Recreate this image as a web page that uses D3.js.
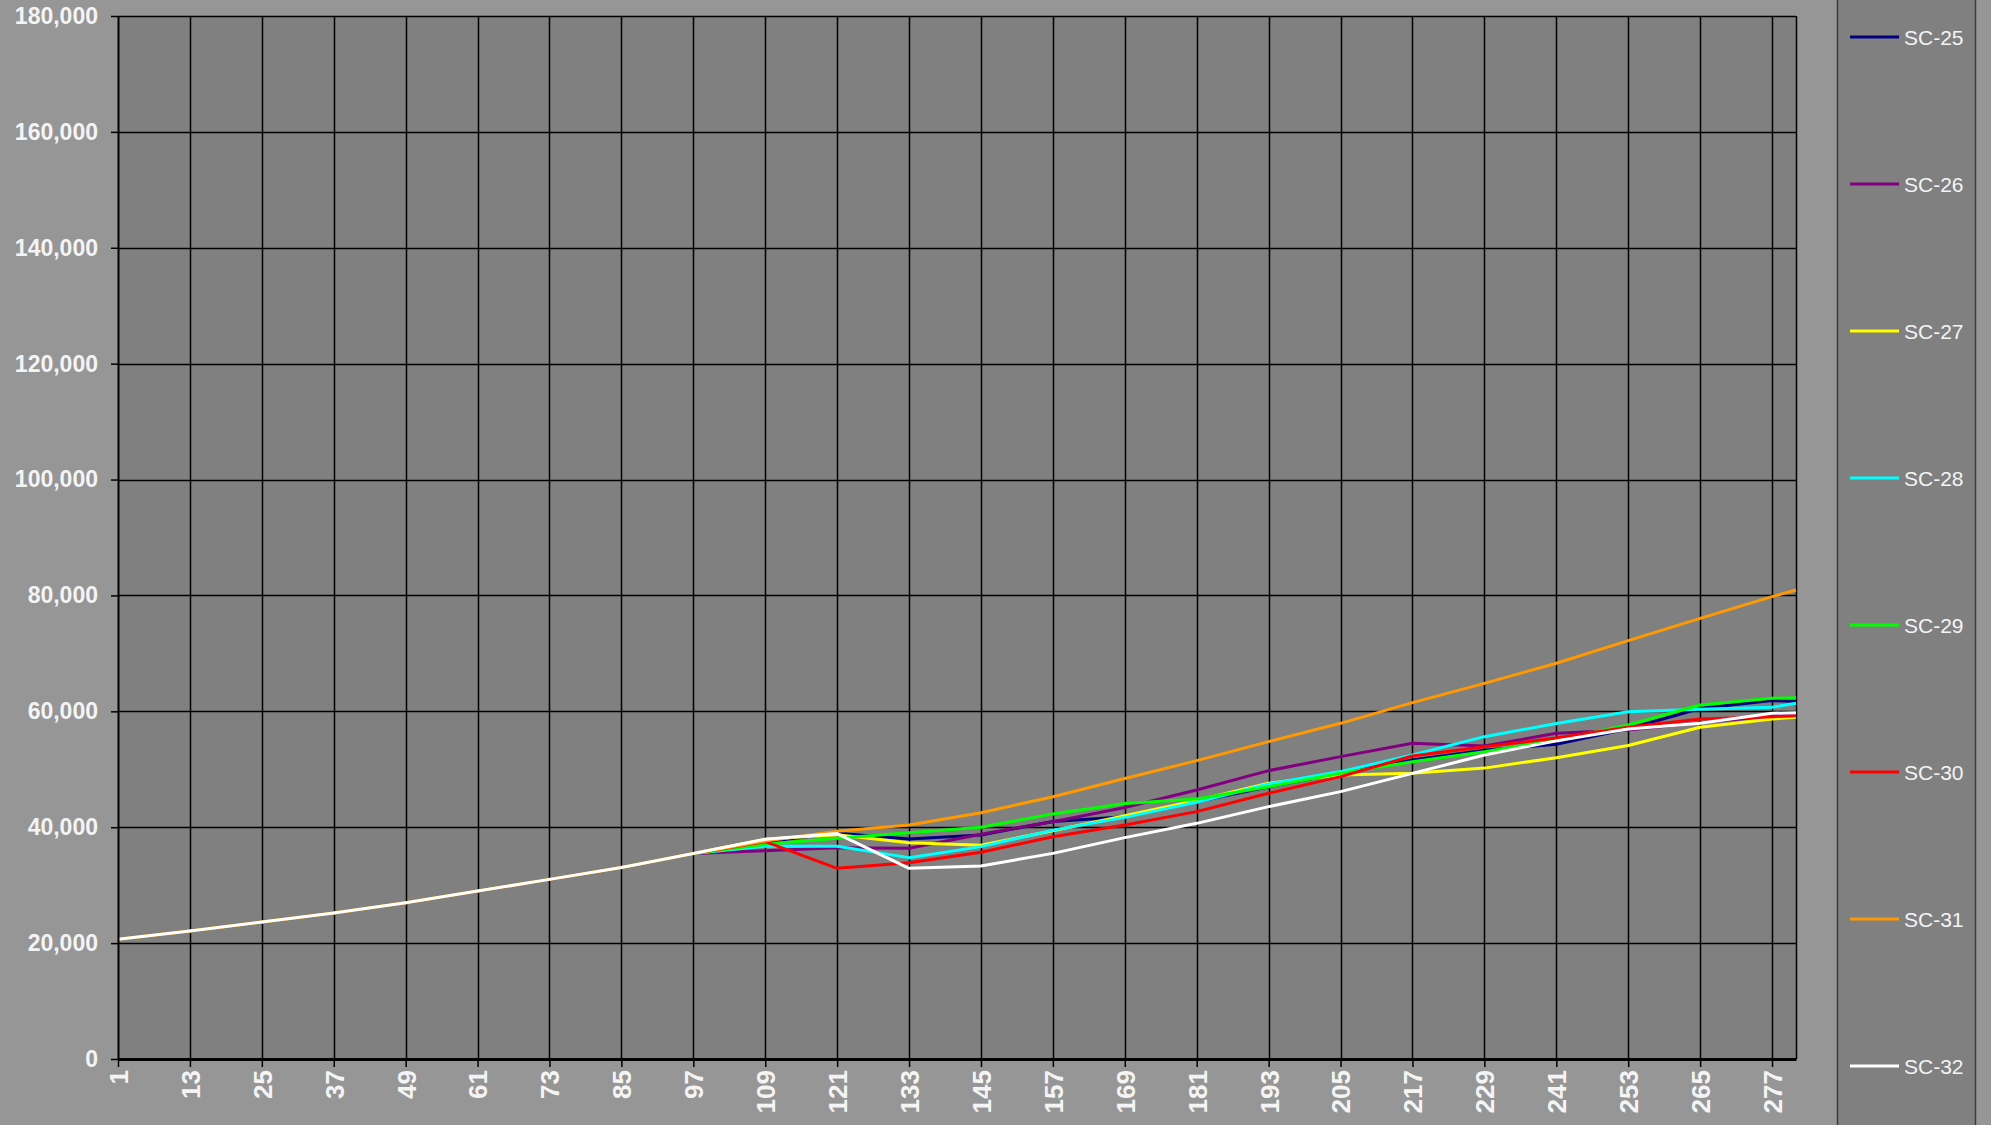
<!DOCTYPE html>
<html>
<head>
<meta charset="utf-8">
<script src="https://cdn.jsdelivr.net/npm/d3@7"></script>
<style>
  html, body { margin: 0; padding: 0; background: #969696; overflow: hidden; }
  #chart { width: 1991px; height: 1125px; }
  text { font-family: "Liberation Sans", Arial, sans-serif; }
</style>
</head>
<body>
<div id="chart"></div>
<script>
// Month index of each point (category axis)
const months = [1, 13, 25, 37, 49, 61, 73, 85, 97, 109, 121, 133, 145, 157, 169, 181, 193, 205, 217, 229, 241, 253, 265, 277, 281]

// Series values
const sc25 = [20650, 22100, 23650, 25200, 26980, 28980, 31000, 33050, 35450, 37500, 38950, 37970, 38660, 41000, 41800, 44400, 47000, 49300, 51600, 53300, 54300, 57000, 60500, 61850, 61700]
const sc26 = [20650, 22100, 23650, 25200, 26980, 28980, 31000, 33050, 35450, 35950, 36450, 36360, 38800, 40960, 43400, 46430, 49760, 52180, 54480, 54020, 56200, 56780, 58040, 59200, 59400]
const sc27 = [20650, 22100, 23650, 25200, 26980, 28980, 31000, 33050, 35450, 37910, 38700, 37340, 36900, 39400, 42000, 44600, 47600, 49000, 49300, 50200, 52000, 54100, 57240, 58680, 58970]
const sc28 = [20650, 22100, 23650, 25200, 26980, 28980, 31000, 33050, 35450, 36760, 36700, 34750, 36650, 39500, 41700, 44300, 47460, 49600, 52460, 55630, 57900, 59940, 60340, 60690, 61380]
const sc29 = [20650, 22100, 23650, 25200, 26980, 28980, 31000, 33050, 35450, 37050, 38080, 39060, 40000, 42300, 44100, 44870, 47000, 49300, 51310, 53040, 55050, 57640, 61090, 62240, 62360]
const sc30 = [20650, 22100, 23650, 25200, 26980, 28980, 31000, 33050, 35450, 37500, 32910, 33880, 35670, 38370, 40400, 42690, 45850, 48730, 52290, 53900, 55400, 57240, 58680, 59080, 59250]
const sc31 = [20650, 22100, 23650, 25200, 26980, 28980, 31000, 33050, 35450, 37600, 39300, 40380, 42510, 45270, 48400, 51490, 54770, 57930, 61500, 64830, 68300, 72200, 76050, 79790, 80940]
const sc32 = [20650, 22100, 23650, 25200, 26980, 28980, 31000, 33050, 35450, 37910, 38900, 32910, 33310, 35490, 38200, 40670, 43550, 46140, 49300, 52460, 54900, 56950, 57930, 59660, 59770]

const seriesNames = ["SC-25", "SC-26", "SC-27", "SC-28", "SC-29", "SC-30", "SC-31", "SC-32"]
const seriesValues = [sc25, sc26, sc27, sc28, sc29, sc30, sc31, sc32]
const seriesColors = ["#000080", "#800080", "#ffff00", "#00ffff", "#00ff00", "#ff0000", "#ff9900", "#ffffff"]

// Axis ticks
const xTicks = [1, 13, 25, 37, 49, 61, 73, 85, 97, 109, 121, 133, 145, 157, 169, 181, 193, 205, 217, 229, 241, 253, 265, 277]
const yTicks = [0, 20000, 40000, 60000, 80000, 100000, 120000, 140000, 160000, 180000]

function makeLineChart() {
    let width = 1991
    let height = 1125
    let left = 118, right = 1796, top = 16, bottom = 1059

    const svg = d3.select("#chart")
        .append("svg")
        .attr("width", width)
        .attr("height", height)

    svg.append("rect").attr("width", width).attr("height", height).attr("fill", "#969696")

    // Scales
    const xScale = d3.scaleLinear().domain([1, 281]).range([left, right])
    const yScale = d3.scaleLinear().domain([0, 180000]).range([bottom, top])

    // Plot area
    svg.append("rect")
        .attr("x", left).attr("y", top)
        .attr("width", right - left).attr("height", bottom - top)
        .attr("fill", "#808080")

    // Grid lines
    svg.append("g").selectAll("line")
        .data(yTicks.slice(1))
        .enter().append("line")
        .attr("x1", left).attr("x2", right)
        .attr("y1", d => Math.round(yScale(d)) + 0.5)
        .attr("y2", d => Math.round(yScale(d)) + 0.5)
        .attr("stroke", "#000").attr("stroke-width", 1.5)

    svg.append("g").selectAll("line")
        .data(xTicks.slice(1))
        .enter().append("line")
        .attr("x1", d => Math.round(xScale(d)) + 0.5)
        .attr("x2", d => Math.round(xScale(d)) + 0.5)
        .attr("y1", top).attr("y2", bottom)
        .attr("stroke", "#000").attr("stroke-width", 1.5)

    // Right border of plot area
    svg.append("line")
        .attr("x1", right + 0.5).attr("x2", right + 0.5)
        .attr("y1", top).attr("y2", bottom)
        .attr("stroke", "#000").attr("stroke-width", 1.5)

    // Lines
    const line = d3.line()
        .x((d, i) => xScale(months[i]))
        .y(d => yScale(d))

    svg.append("g").selectAll("path")
        .data(seriesValues)
        .enter().append("path")
        .attr("d", d => line(d))
        .attr("fill", "none")
        .attr("stroke", (d, i) => seriesColors[i])
        .attr("stroke-width", 3)
        .attr("stroke-linejoin", "round")

    // Axes
    const yAxis = d3.axisLeft(yScale).tickValues(yTicks).tickFormat(d3.format(",")).tickSize(7).tickSizeOuter(0)
    const xAxis = d3.axisBottom(xScale).tickValues(xTicks).tickFormat(d3.format("d")).tickSize(8).tickSizeOuter(0)

    let gy = svg.append("g")
        .attr("transform", "translate(" + left + ",0)")
        .call(yAxis)
    gy.select(".domain").attr("stroke", "#000").attr("stroke-width", 2)
    gy.selectAll(".tick line").attr("stroke", "#000").attr("stroke-width", 1.5)
    gy.selectAll(".tick text")
        .attr("x", -20)
        .attr("fill", "#f4f4f4")
        .style("font-size", "23px")
        .style("font-weight", "bold")

    let gx = svg.append("g")
        .attr("transform", "translate(0," + bottom + ")")
        .call(xAxis)
    gx.select(".domain").attr("stroke", "#000").attr("stroke-width", 3)
    gx.selectAll(".tick line").attr("stroke", "#000").attr("stroke-width", 1.5)
    gx.selectAll(".tick text")
        .attr("transform", "rotate(-90)")
        .attr("text-anchor", "end")
        .attr("x", -11)
        .attr("y", 0)
        .attr("dy", "0.36em")
        .attr("fill", "#f4f4f4")
        .style("font-size", "26px")
        .style("font-weight", "bold")

    // Legend
    let legend = svg.append("g").attr("id", "legend")
    legend.append("rect")
        .attr("x", 1837.5).attr("y", -5)
        .attr("width", 138).attr("height", height + 10)
        .attr("fill", "#808080").attr("stroke", "#3c3c3c").attr("stroke-width", 1.5)

    seriesNames.forEach((name, i) => {
        let yPos = 37 + i * 147
        legend.append("line")
            .attr("x1", 1850).attr("x2", 1899)
            .attr("y1", yPos).attr("y2", yPos)
            .attr("stroke", seriesColors[i]).attr("stroke-width", 3)
        legend.append("text")
            .attr("x", 1904).attr("y", yPos)
            .attr("dy", "0.36em")
            .attr("fill", "#f4f4f4")
            .style("font-size", "21px")
            .text(name)
    })
}

makeLineChart()
</script>
</body>
</html>
